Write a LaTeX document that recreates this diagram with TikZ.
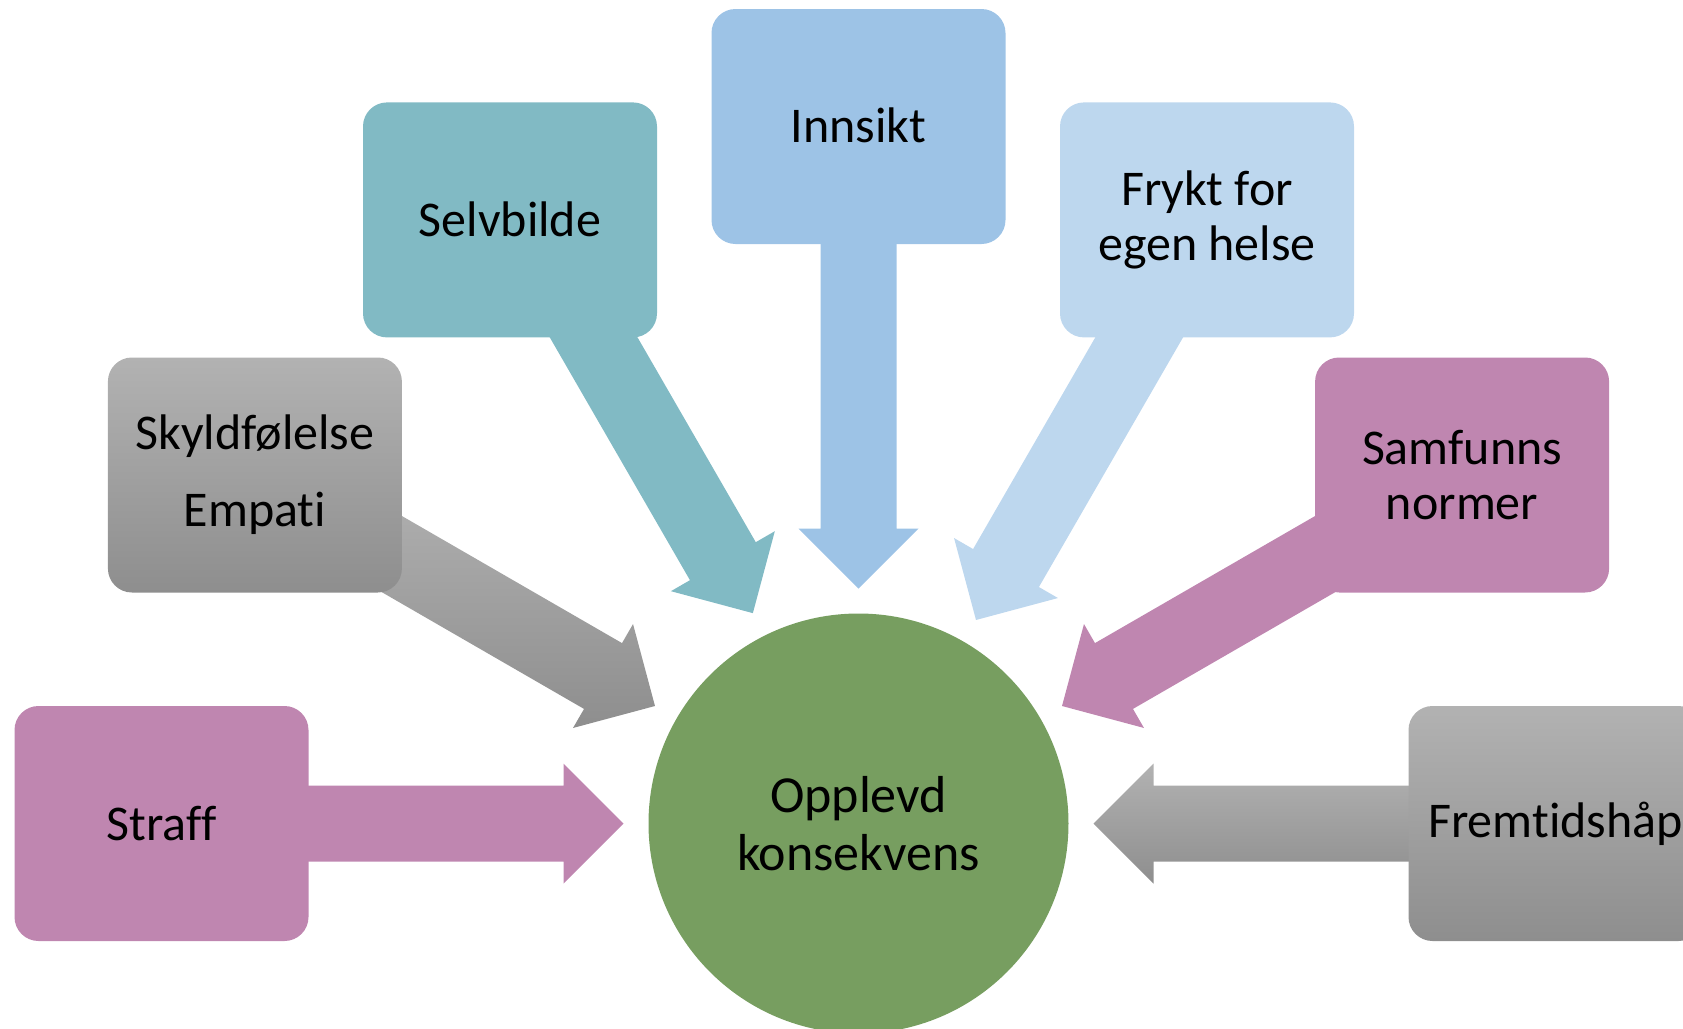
\documentclass[tikz,border=0pt]{standalone}
\usepackage{fontspec}
\setmainfont{Carlito}[Ligatures=CommonOff]
\usetikzlibrary{calc,backgrounds}

\definecolor{mauve}{RGB}{191,134,176}
\definecolor{selfteal}{RGB}{129,186,196}
\definecolor{insblue}{RGB}{157,195,230}
\definecolor{fearblue}{RGB}{189,215,238}
\definecolor{moss}{RGB}{119,158,96}
\definecolor{greytop}{RGB}{178,178,178}
\definecolor{greybot}{RGB}{142,142,142}

\tikzset{
  card/.style={rounded corners=12pt, minimum width=147pt, minimum height=117.5pt,
    inner sep=2pt, align=center, text=black, font=\fontsize{25}{27.5}\selectfont},
  greycard/.style={card, top color=greytop, bottom color=greybot},
  hub/.style={circle, fill=moss, minimum size=210pt, inner sep=0pt, align=center,
    text=black, font=\fontsize{26}{29}\selectfont},
  % block arrow from the centre of a card to just outside the hub;
  % the optional argument moves the arrow sideways
  blockarrow/.style={to path={
    ($(\tikztotarget.center)!320pt!(\tikztostart.center)!{19pt-#1}!90:(\tikztostart.center)$)
    -- ($(\tikztotarget.center)!147.5pt!(\tikztostart.center)!{19pt-#1}!90:(\tikztostart.center)$)
    -- ($(\tikztotarget.center)!147.5pt!(\tikztostart.center)!{30pt-#1}!90:(\tikztostart.center)$)
    -- ($(\tikztotarget.center)!117.5pt!(\tikztostart.center)!{#1}!-90:(\tikztostart.center)$)
    -- ($(\tikztotarget.center)!147.5pt!(\tikztostart.center)!{30pt+#1}!-90:(\tikztostart.center)$)
    -- ($(\tikztotarget.center)!147.5pt!(\tikztostart.center)!{19pt+#1}!-90:(\tikztostart.center)$)
    -- ($(\tikztotarget.center)!320pt!(\tikztostart.center)!{19pt+#1}!-90:(\tikztostart.center)$)
    -- cycle}},
  blockarrow/.default=0pt,
  greyarrow/.style={top color=greytop, bottom color=greybot}
}

\begin{document}
\begin{tikzpicture}[x=0.5pt,y=-0.5pt]
\useasboundingbox (0,0) rectangle (1683,1029);
\clip (0,0) rectangle (1683,1029);

% central circle
\node[hub] (c) at (858.5,823.5) {Opplevd\\konsekvens};

% surrounding cards
\node[card, fill=mauve] (straff) at (161.5,823.5) {Straff};
\node[greycard, font=\fontsize{25}{38.5}\selectfont] (skyld) at (254.9,475) {Skyldfølelse\\Empati};
\node[card, fill=selfteal] (selv) at (510,219.9) {\raisebox{1pt}{Selvbilde}};
\node[card, fill=insblue] (inn) at (858.5,126.5) {\raisebox{1pt}{Innsikt}};
\node[card, fill=fearblue] (frykt) at (1207,219.9) {Frykt for\\egen helse};
\node[card, fill=mauve] (samf) at (1462.1,475) {Samfunns\\normer};
\node[greycard] (fremt) at (1555.5,823.5) {Fremtidshåp};

% block arrows behind the cards
\begin{pgfonlayer}{background}
  \path[fill=mauve] (straff) to[blockarrow] (c);
  \path[greyarrow] (skyld) to[blockarrow] (c);
  \path[fill=selfteal] (selv) to[blockarrow=6.85pt] (c);
  \path[fill=insblue] (inn) to[blockarrow] (c);
  \path[fill=fearblue] (frykt) to[blockarrow] (c);
  \path[fill=mauve] (samf) to[blockarrow] (c);
  \path[greyarrow] (fremt) to[blockarrow] (c);
\end{pgfonlayer}
\end{tikzpicture}
\end{document}
